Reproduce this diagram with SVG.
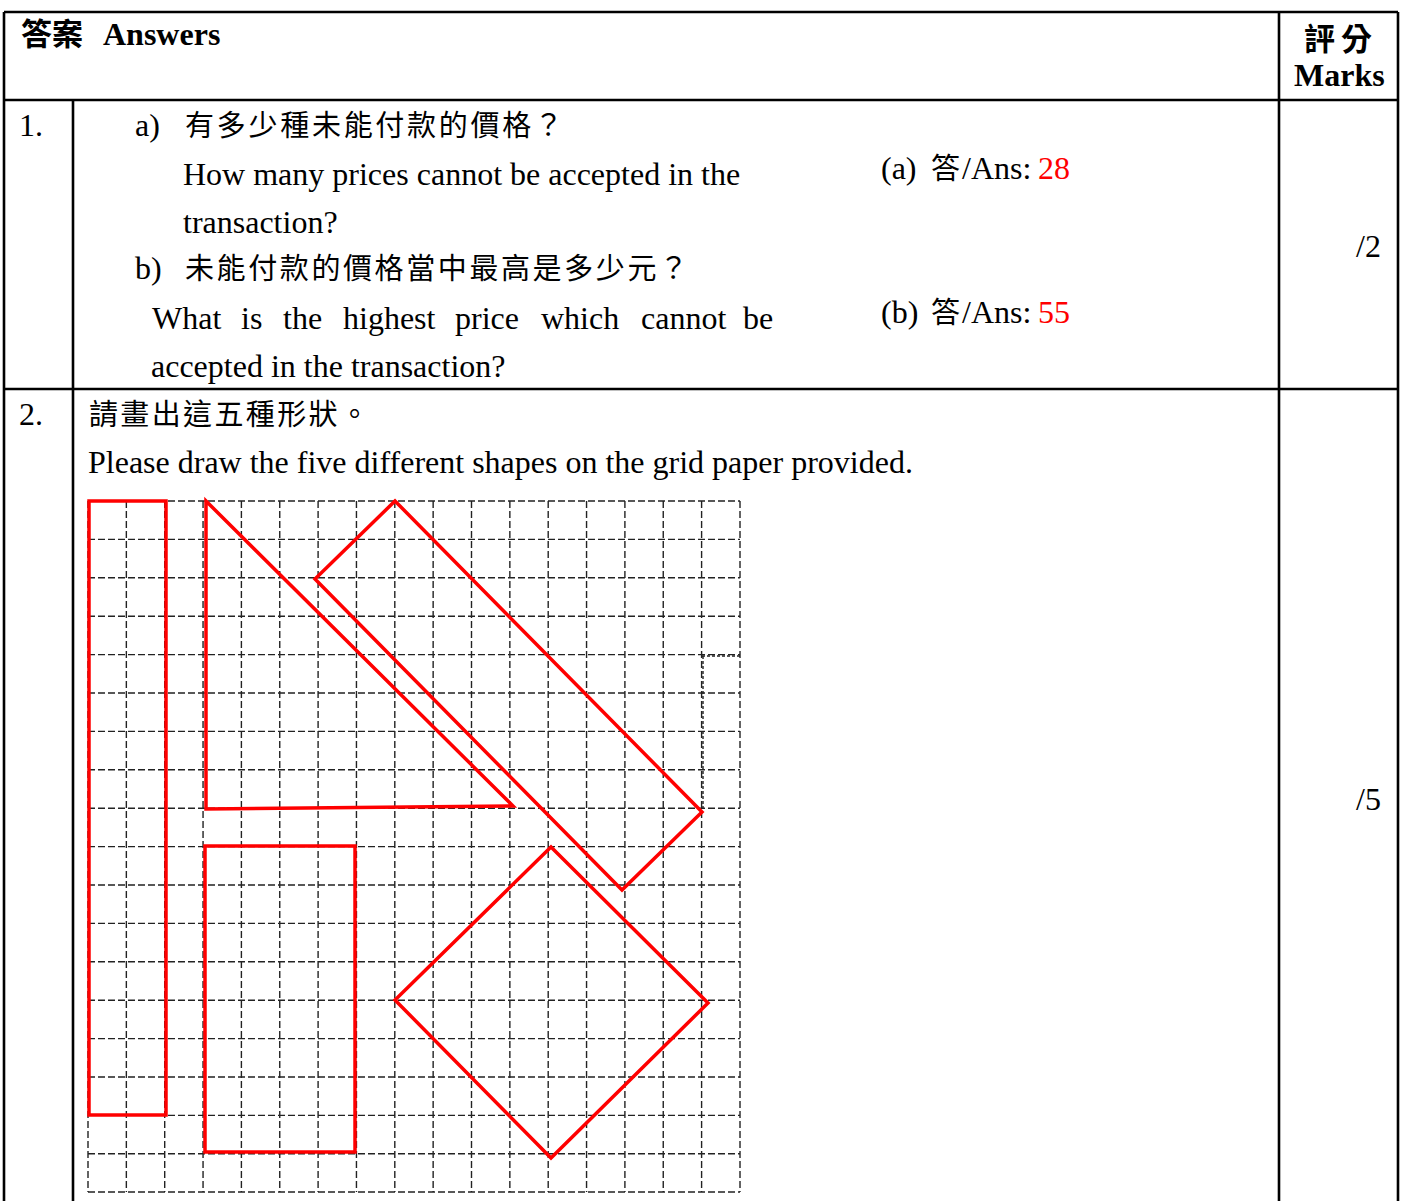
<svg xmlns="http://www.w3.org/2000/svg" width="1403" height="1201" viewBox="0 0 1403 1201">
<style>
text{font-family:"Liberation Serif","Noto Sans CJK TC",serif;font-size:32px;fill:#000}
.b{font-weight:bold}
.cjk{font-family:"Noto Sans CJK TC","Liberation Serif",sans-serif;font-size:29px}
.red{fill:#ff0000}
.tbl{stroke:#000;stroke-width:2.6;fill:none}
.grid line{stroke:#222;stroke-width:1.4;stroke-dasharray:7 3}
.shape{fill:none;stroke:#ff0000;stroke-width:3.5;stroke-linejoin:miter}
</style>
<rect width="1403" height="1201" fill="#fff"/>
<g id="table">
<line class="tbl" x1="4" y1="12" x2="1398" y2="12"/>
<line class="tbl" x1="4" y1="100" x2="1398" y2="100"/>
<line class="tbl" x1="4" y1="389" x2="1398" y2="389"/>
<line class="tbl" x1="4" y1="12" x2="4" y2="1201"/>
<line class="tbl" x1="73" y1="100" x2="73" y2="1201"/>
<line class="tbl" x1="1279" y1="12" x2="1279" y2="1201"/>
<line class="tbl" x1="1398" y1="12" x2="1398" y2="1201"/>
</g>
<g id="header">
<text x="21" y="45" class="b"><tspan class="cjk b" style="font-size:31px">答案</tspan><tspan x="103">Answers</tspan></text>
<text x="1304" y="50" class="cjk b" style="font-size:31px" textLength="68">評分</text>
<text x="1294" y="86" class="b">Marks</text>
</g>
<g id="q1">
<text x="19" y="136">1.</text>
<text x="135" y="136">a)</text>
<text x="185" y="136" class="cjk" textLength="378">有多少種未能付款的價格？</text>
<text x="183" y="185">How many prices cannot be accepted in the</text>
<text x="183" y="233">transaction?</text>
<text x="135" y="279">b)</text>
<text x="185" y="279" class="cjk" textLength="503">未能付款的價格當中最高是多少元？</text>
<text y="329"><tspan x="152">What</tspan><tspan x="241">is</tspan><tspan x="283">the</tspan><tspan x="343">highest</tspan><tspan x="455">price</tspan><tspan x="541">which</tspan><tspan x="641">cannot</tspan><tspan x="743">be</tspan></text>
<text x="151" y="377">accepted in the transaction?</text>
<text x="881" y="179">(a)<tspan x="931" class="cjk">答</tspan><tspan x="962">/Ans: </tspan><tspan x="1038" class="red">28</tspan></text>
<text x="881" y="323">(b)<tspan x="931" class="cjk">答</tspan><tspan x="962">/Ans: </tspan><tspan x="1038" class="red">55</tspan></text>
<text x="1356" y="257">/2</text>
</g>
<g id="q2">
<text x="19" y="425">2.</text>
<text x="89" y="425" class="cjk" textLength="280">請畫出這五種形狀。</text>
<text x="88" y="473">Please draw the five different shapes on the grid paper provided.</text>
<text x="1356" y="810">/5</text>
</g>
<g id="grid" class="grid">
<line x1="88" y1="501" x2="88" y2="1192"/>
<line x1="126.35" y1="501" x2="126.35" y2="1192"/>
<line x1="164.7" y1="501" x2="164.7" y2="1192"/>
<line x1="203.05" y1="501" x2="203.05" y2="1192"/>
<line x1="241.4" y1="501" x2="241.4" y2="1192"/>
<line x1="279.75" y1="501" x2="279.75" y2="1192"/>
<line x1="318.1" y1="501" x2="318.1" y2="1192"/>
<line x1="356.45" y1="501" x2="356.45" y2="1192"/>
<line x1="394.8" y1="501" x2="394.8" y2="1192"/>
<line x1="433.15" y1="501" x2="433.15" y2="1192"/>
<line x1="471.5" y1="501" x2="471.5" y2="1192"/>
<line x1="509.85" y1="501" x2="509.85" y2="1192"/>
<line x1="548.2" y1="501" x2="548.2" y2="1192"/>
<line x1="586.55" y1="501" x2="586.55" y2="1192"/>
<line x1="624.9" y1="501" x2="624.9" y2="1192"/>
<line x1="663.25" y1="501" x2="663.25" y2="1192"/>
<line x1="701.6" y1="501" x2="701.6" y2="1192"/>
<line x1="740" y1="501" x2="740" y2="1192"/>
<line x1="88" y1="501" x2="740" y2="501"/>
<line x1="88" y1="539.4" x2="740" y2="539.4"/>
<line x1="88" y1="577.8" x2="740" y2="577.8"/>
<line x1="88" y1="616.2" x2="740" y2="616.2"/>
<line x1="88" y1="654.6" x2="740" y2="654.6"/>
<line x1="88" y1="693" x2="740" y2="693"/>
<line x1="88" y1="731.4" x2="740" y2="731.4"/>
<line x1="88" y1="769.8" x2="740" y2="769.8"/>
<line x1="88" y1="808.2" x2="740" y2="808.2"/>
<line x1="88" y1="846.6" x2="740" y2="846.6"/>
<line x1="88" y1="885" x2="740" y2="885"/>
<line x1="88" y1="923.4" x2="740" y2="923.4"/>
<line x1="88" y1="961.8" x2="740" y2="961.8"/>
<line x1="88" y1="1000.2" x2="740" y2="1000.2"/>
<line x1="88" y1="1038.6" x2="740" y2="1038.6"/>
<line x1="88" y1="1077" x2="740" y2="1077"/>
<line x1="88" y1="1115.4" x2="740" y2="1115.4"/>
<line x1="88" y1="1153.8" x2="740" y2="1153.8"/>
<line x1="88" y1="1192" x2="740" y2="1192"/>
<line x1="703" y1="656" x2="703" y2="809" style="stroke-dasharray:3 2"/>
<line x1="702" y1="656" x2="740" y2="656" style="stroke-dasharray:3 2"/>
</g>
<g id="shapes">
<rect id="tall-rect" class="shape" x="89" y="501" width="77" height="614"/>
<polygon id="triangle" class="shape" points="206,501 206,809 513,806"/>
<polygon id="slanted-rect" class="shape" points="395,501 702,812 622,890 315,579"/>
<rect id="rect" class="shape" x="205" y="846" width="150" height="306"/>
<polygon id="diamond" class="shape" points="551,847 708,1003 551,1158 395,1000"/>
</g>
</svg>
